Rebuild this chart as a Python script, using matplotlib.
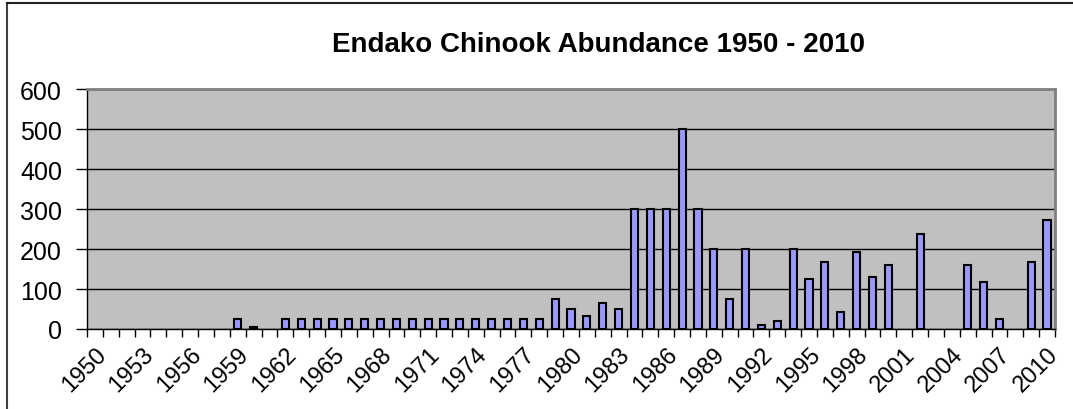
import matplotlib
matplotlib.use("Agg")
import matplotlib.pyplot as plt
from matplotlib.lines import Line2D
import numpy as np

plt.rcParams['font.family'] = ['Liberation Sans', 'DejaVu Sans']

years = list(range(1950, 2011))
# escapement counts, 1950..2010
counts = [0, 0, 0, 0, 0, 0, 0, 0, 0, 25,      # 1950-1959
          5, 0, 25, 25, 25, 25, 25, 25, 25, 25,  # 1960-1969
          25, 25, 25, 25, 25, 25, 25, 25, 25, 75,  # 1970-1979
          50, 32, 65, 50, 300, 300, 300, 500, 300, 200,  # 1980-1989
          75, 200, 10, 19, 200, 126, 167, 42, 192, 131,  # 1990-1999
          160, 0, 237, 0, 0, 160, 117, 25, 0, 167,  # 2000-2009
          272]  # 2010
y_ticks = [0, 100, 200, 300, 400, 500, 600]
label_years = years[::3]

W, H = 1073, 410
fig = plt.figure(figsize=(W / 100, H / 100), dpi=100)
ax = fig.add_axes([87 / W, 80 / H, 968 / W, 240 / H])
ax.set_facecolor('#C0C0C0')

x = np.arange(len(years))
vals = np.array(counts, dtype=float)
# skip empty years so no flat outline is drawn on the axis
nz = vals > 0
ax.bar(x[nz], vals[nz], width=0.45, color='#9999FF', edgecolor='black', linewidth=1.5, zorder=3)

ax.set_xlim(-0.5, len(years) - 0.5)
ax.set_ylim(0, 600)
ax.set_yticks(y_ticks)
ax.set_yticklabels([str(v) for v in y_ticks], fontsize=18)
ax.yaxis.grid(True, color='black', linewidth=1, zorder=1)
ax.tick_params(axis='y', direction='out', length=8, width=1, pad=10)

# category ticks sit between bars, labels every third year
ax.set_xticks(x[::3])
ax.set_xticklabels([str(y) for y in label_years], rotation=45, ha='right',
                   rotation_mode='anchor', fontsize=17)
ax.set_xticks(np.arange(len(years) + 1) - 0.5, minor=True)
ax.tick_params(axis='x', which='major', length=0, pad=10)
ax.tick_params(axis='x', which='minor', direction='out', length=6, width=1)

for side in ['top', 'right']:
    ax.spines[side].set_color('#808080')
    ax.spines[side].set_linewidth(2)
for side in ['left', 'bottom']:
    ax.spines[side].set_color('black')
    ax.spines[side].set_linewidth(1)

fig.text(598 / W, 1 - 45 / H, 'Endako Chinook Abundance 1950 - 2010',
         ha='center', va='center', fontsize=20, fontweight='bold')

# chart frame: only left and top edges are visible
fig.add_artist(Line2D([7 / W, 7 / W], [0, 1 - 4 / H], transform=fig.transFigure,
                      color='#404040', linewidth=1.5))
fig.add_artist(Line2D([7 / W, 1], [1 - 4 / H, 1 - 4 / H], transform=fig.transFigure,
                      color='#202020', linewidth=1.5))

fig.savefig('out.png', dpi=100)
